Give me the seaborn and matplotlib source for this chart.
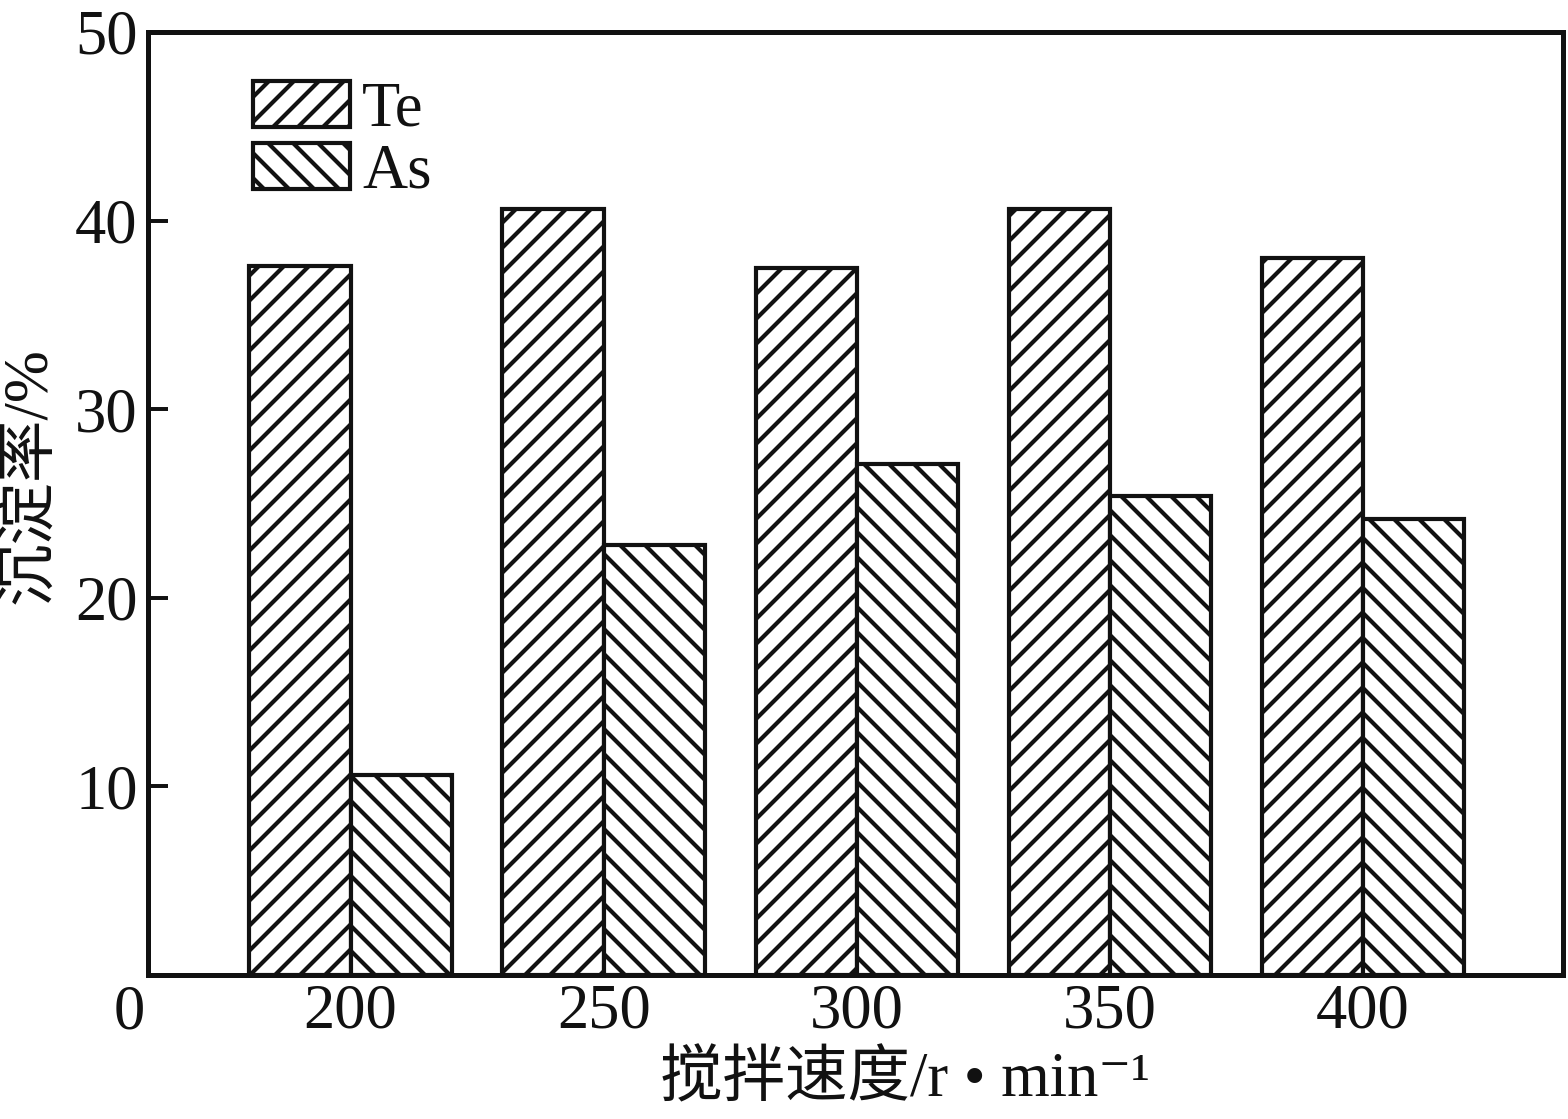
import pandas as pd
import numpy as np
import matplotlib
matplotlib.use('Agg')
import matplotlib.pyplot as plt
import seaborn as sns
from matplotlib.patches import Patch
from matplotlib.transforms import blended_transform_factory

# data
speeds = ['200', '250', '300', '350', '400']
te_rate = [37.6, 40.6, 37.5, 40.6, 38.0]
as_rate = [10.6, 22.8, 27.1, 25.4, 24.2]
series = ['Te', 'As']
y_ticks = [10, 20, 30, 40, 50]

df = pd.DataFrame({
    'speed': speeds * 2,
    'rate': te_rate + as_rate,
    'elem': ['Te'] * len(speeds) + ['As'] * len(speeds),
})

sns.set_theme(style='white')
plt.rcParams['font.family'] = ['Liberation Serif', 'Noto Sans CJK SC', 'DejaVu Serif']
plt.rcParams['hatch.linewidth'] = 2.0
plt.rcParams['hatch.color'] = '#111111'
for k in ['text.color', 'axes.labelcolor', 'xtick.color', 'ytick.color']:
    plt.rcParams[k] = '#111111'

fig = plt.figure(figsize=(1568 / 150, 1119 / 150), dpi=150)
ax = fig.add_axes([148 / 1568, 1 - 975 / 1119, (1563 - 148) / 1568, (975 - 32) / 1119])

sns.barplot(data=df, x='speed', y='rate', hue='elem', hue_order=series,
            palette=['white', 'white'], edgecolor='#111111', linewidth=2.0,
            width=0.8, legend=False, ax=ax)

hatches = ['//', '\\\\']
for cont, h in zip(ax.containers, hatches):
    for bar in cont:
        bar.set_hatch(h)

ax.set_xlim(-0.8, 4.79)
ax.set_ylim(0, 50)
ax.set_yticks(y_ticks)
ax.set_yticklabels([str(t) for t in y_ticks])
ax.tick_params(axis='y', direction='in', length=9.6, width=1.9, pad=5, labelsize=30, left=True)
ax.tick_params(axis='x', length=0, pad=4, labelsize=30)
for s in ax.spines.values():
    s.set_linewidth(2.4)
    s.set_color('#111111')

# the lone "0" below the corner
tr = blended_transform_factory(ax.transAxes, ax.transData)
ax.text(-0.002, -0.5, '0', transform=tr, ha='right', va='top', fontsize=30)

ax.set_xlabel('搅拌速度/r • min⁻¹', fontsize=30)
ax.set_ylabel('沉淀率/%', fontsize=30)
ax.xaxis.set_label_coords(0.535, -0.082)
ax.yaxis.set_label_coords(-0.063, 0.53)

handles = [Patch(facecolor='white', edgecolor='#111111', linewidth=2.0, hatch=h, label=l)
           for h, l in zip(hatches, series)]
ax.legend(handles=handles, loc='upper left', bbox_to_anchor=(0.074, 0.948), frameon=False,
          fontsize=30, handlelength=1.55, handleheight=0.75, labelspacing=0.05,
          handletextpad=0.2, borderaxespad=0, borderpad=0)

fig.savefig('out.png', dpi=150)
